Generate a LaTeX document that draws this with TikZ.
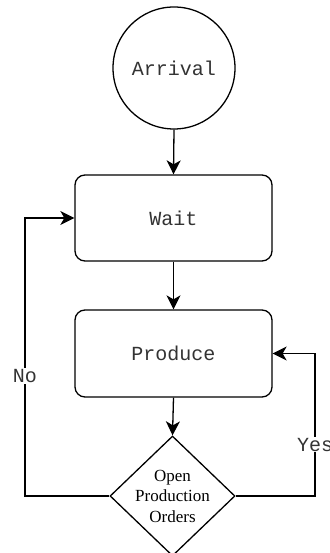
\documentclass[tikz,border=0pt]{standalone}
\usepackage{fontspec}
\setmainfont{Liberation Serif}
\newfontfamily\monofont{Liberation Mono}
\usetikzlibrary{shapes.geometric,arrows.meta}
\definecolor{txtgray}{HTML}{333333}
\begin{document}
\begin{tikzpicture}[x=1pt,y=1pt,
  line width=1.3pt,
  arr/.style={-{Stealth[length=14pt,width=14pt,inset=4pt]}},
  boxnode/.style={draw,rounded corners=10pt,minimum width=197pt,inner sep=0pt,text=txtgray,font=\monofont\fontsize{20}{24}\selectfont},
  lbl/.style={fill=white,inner sep=1pt,text=txtgray,font=\monofont\fontsize{20}{24}\selectfont}]
\useasboundingbox (0,0) rectangle (329,553);
\node[draw,circle,minimum size=122pt,inner sep=0pt,text=txtgray,font=\monofont\fontsize{20}{24}\selectfont] (arr) at (174,485) {Arrival};
\node[boxnode,minimum height=86pt] (wait) at (173.5,335) {Wait};
\node[boxnode,minimum height=87pt] (prod) at (173.5,199.5) {Produce};
\node[draw,diamond,minimum width=125pt,minimum height=120pt,inner sep=0pt] (dec) at (172.5,57) {};
\node[align=center,inner sep=0pt,font=\fontsize{17}{20.5}\selectfont] (dectext) at (dec.center) {Open\\Production\\Orders};
\coordinate (lc) at (25,0);
\coordinate (rc) at (315,0);
\draw[arr] (arr.south) -- (wait.north);
\draw[arr] (wait.south) -- (prod.north);
\draw[arr] (prod.south) -- (dec.north);
\draw[arr] (dec.west) -| (lc |- wait.west) node[lbl,pos=0.716] {No} -- (wait.west);
\draw[arr] (dec.east) -| (rc |- prod.east) node[lbl,pos=0.68] {Yes} -- (prod.east);
\end{tikzpicture}
\end{document}
